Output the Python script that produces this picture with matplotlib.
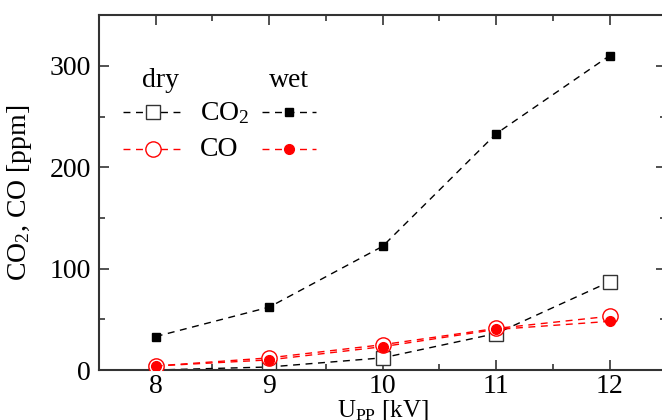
import matplotlib
matplotlib.use("Agg")
import matplotlib.pyplot as plt
from matplotlib.ticker import MultipleLocator

plt.rcParams['font.family'] = ['Liberation Serif', 'DejaVu Serif']
plt.rcParams['mathtext.fontset'] = 'custom'
plt.rcParams['mathtext.rm'] = 'Liberation Serif'
plt.rcParams['mathtext.it'] = 'Liberation Serif:italic'

voltage = [8, 9, 10, 11, 12]
co2_dry = [0, 3, 12, 36, 87]
co2_wet = [33, 62, 122, 233, 310]
co_dry = [4, 12, 25, 41, 53]
co_wet = [4, 10, 23, 40, 48]

fig = plt.figure(figsize=(6.62, 4.2), dpi=100)
ax = fig.add_axes([0.1495, 0.119, 0.857, 0.845])

dash = (0, (5, 4))
ax.plot(voltage, co2_wet, color='black', ls=dash, lw=1, marker='s', ms=6,
        mfc='black', mec='black', zorder=3)
ax.plot(voltage, co2_dry, color='black', ls=dash, lw=1, marker='s', ms=10,
        mfc='white', mec='#333333', mew=1, zorder=2)
ax.plot(voltage, co_dry, color='red', ls=dash, lw=1, marker='o', ms=11,
        mfc='white', mec='red', mew=1, zorder=4)
ax.plot(voltage, co_wet, color='red', ls=dash, lw=1, marker='o', ms=7,
        mfc='red', mec='red', zorder=5)

ax.set_xlim(7.5, 12.5)
ax.set_ylim(0, 350)
ax.xaxis.set_major_locator(MultipleLocator(1))
ax.xaxis.set_minor_locator(MultipleLocator(0.5))
ax.yaxis.set_major_locator(MultipleLocator(100))
ax.yaxis.set_minor_locator(MultipleLocator(50))
ax.tick_params(which='both', direction='in', top=True, right=True,
               labelsize=20, color='#333333', width=1.2)
ax.tick_params(axis='x', which='both', pad=3)
ax.tick_params(axis='y', which='both', pad=6)
ax.tick_params(which='major', length=7)
ax.tick_params(which='minor', length=4)
for s in ax.spines.values():
    s.set_linewidth(1.5)
    s.set_color('#333333')

ax.set_xlabel(r'U$_{\mathrm{PP}}$ [kV]', fontsize=18)
ax.xaxis.set_label_coords(0.5, (370 - 398) / 355)
ax.set_ylabel(r'CO$_2$, CO [ppm]', fontsize=20)
ax.yaxis.set_label_coords((34 - 99) / 567, 0.5)

# legend (drawn manually in axes coordinates)
tr = ax.transAxes
def ax_x(px):
    return (px - 99) / (666 - 99)
def ax_y(py):
    return (370 - py) / (370 - 15)

ax.text(ax_x(160), ax_y(80), 'dry', transform=tr, fontsize=20, ha='center', va='center')
ax.text(ax_x(289), ax_y(80), 'wet', transform=tr, fontsize=20, ha='center', va='center')
ax.text(ax_x(200), ax_y(113), r'CO$_2$', transform=tr, fontsize=20, ha='left', va='center')
ax.text(ax_x(200), ax_y(149), 'CO', transform=tr, fontsize=20, ha='left', va='center')

ax.plot([ax_x(123), ax_x(180)], [ax_y(112)] * 2, transform=tr, color='black', ls=dash, lw=1)
ax.plot([ax_x(153)], [ax_y(112)], transform=tr, marker='s', ms=10, mfc='white', mec='#333333', ls='none')
ax.plot([ax_x(262), ax_x(316)], [ax_y(112)] * 2, transform=tr, color='black', ls=dash, lw=1)
ax.plot([ax_x(289)], [ax_y(112)], transform=tr, marker='s', ms=6, mfc='black', mec='black', ls='none')
ax.plot([ax_x(123), ax_x(180)], [ax_y(149)] * 2, transform=tr, color='red', ls=dash, lw=1)
ax.plot([ax_x(153)], [ax_y(149)], transform=tr, marker='o', ms=11, mfc='white', mec='red', ls='none')
ax.plot([ax_x(262), ax_x(316)], [ax_y(149)] * 2, transform=tr, color='red', ls=dash, lw=1)
ax.plot([ax_x(289)], [ax_y(149)], transform=tr, marker='o', ms=7, mfc='red', mec='red', ls='none')

fig.savefig('out.png', dpi=100)
